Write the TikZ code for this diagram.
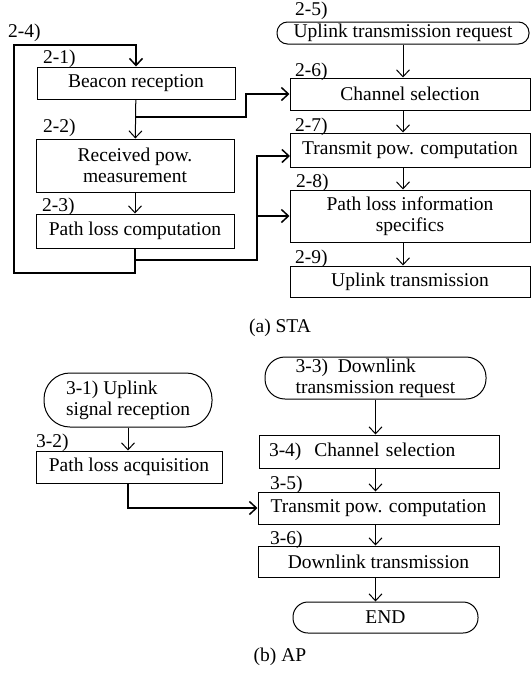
\documentclass[tikz,border=0pt]{standalone}
\usepackage{fontspec}
\setmainfont{Liberation Serif}
\usepackage{tikz}
\usetikzlibrary{arrows.meta,positioning,calc}
\tikzset{
  proc/.style={
    rectangle, draw=black, line width=1pt,
    inner sep=0pt, align=center
  },
  term/.style={proc, rounded corners=10pt},
  num/.style={anchor=base west, inner sep=0pt},
  flow/.style={-{Straight Barb[length=7pt,width=13pt]}, line width=1pt},
  route/.style={flow, line width=1.5pt},
  caption/.style={inner sep=0pt}
}

\begin{document}
\begin{tikzpicture}[x=1pt,y=-1pt,font=\fontsize{19.5}{21}\selectfont]
  \useasboundingbox (0,0) rectangle (531,675);

  % (a) STA -- left column
  \node[proc, minimum width=198pt, minimum height=32pt] (beacon) at (136,83) {Beacon reception};
  \node[proc, minimum width=198pt, minimum height=53pt] (recv) at (135,165.5) {Received pow.\\measurement};
  \node[proc, minimum width=198pt, minimum height=34pt] (plc) at (135,231) {Path loss computation};
  \node[num] (n24) at (8,37) {2-4)};
  \node[num] (n21) at (43,63) {2-1)};
  \node[num] (n22) at (43,132) {2-2)};
  \node[num] (n23) at (42,211) {2-3)};

  % (a) STA -- right column
  \node[term, rounded corners=10.5pt, minimum width=252pt, minimum height=22pt] (ulreq) at (403,33) {Uplink transmission request};
  \node[proc, minimum width=240pt, minimum height=32pt] (chsel) at (410,94) {Channel selection};
  \node[proc, minimum width=240pt, minimum height=34pt] (tpc) at (410,150) {Transmit pow. computation};
  \node[proc, minimum width=240pt, minimum height=52pt] (plinfo) at (410,216) {Path loss information\\specifics};
  \node[proc, minimum width=240pt, minimum height=31pt] (ultx) at (410,281.5) {Uplink transmission};
  \node[num] (n25) at (295,15) {2-5)};
  \node[num] (n26) at (295,76) {2-6)};
  \node[num] (n27) at (295,131) {2-7)};
  \node[num] (n28) at (296,187) {2-8)};
  \node[num] (n29) at (295,263) {2-9)};

  \node[caption] (capa) at (280,328) {(a) STA};

  % STA flow
  \draw[flow] (beacon) -- (recv);
  \draw[flow] (recv) -- (plc);
  \draw[flow] (ulreq.south) -- (ulreq.south |- chsel.north);
  \draw[flow] (ulreq.south |- chsel.south) -- (ulreq.south |- tpc.north);
  \draw[flow] (ulreq.south |- tpc.south) -- (ulreq.south |- plinfo.north);
  \draw[flow] (ulreq.south |- plinfo.south) -- (ulreq.south |- ultx.north);

  % loop back to beacon reception
  \coordinate (loopbl) at (14,273);
  \coordinate (looptl) at (14,45);
  \draw[route] (plc.south) |- (loopbl) -- (looptl) -| (beacon.north);

  % branches to the right column
  \coordinate (br1) at (136,117);
  \coordinate (jog1) at (246,117);
  \draw[route] (br1) -- (jog1) |- (chsel.west);
  \coordinate (br2) at (135,260);
  \coordinate (jog2) at (257,260);
  \coordinate (tpcin) at (290,156);
  \coordinate (tap) at (257,216);
  \draw[route] (br2) -- (jog2) |- (tpcin);
  \draw[route] (tap) -- (plinfo.west);

  % (b) AP
  \node[term, rounded corners=26pt, minimum width=168pt, minimum height=54pt, align=left] (ulsig) at (128,400) {3-1) Uplink\\signal reception};
  \node[proc, minimum width=186pt, minimum height=32pt] (placq) at (129,467) {Path loss acquisition};
  \node[num] (n32) at (36,447) {3-2)};

  \node[term, rounded corners=20pt, minimum width=221pt, minimum height=42pt, align=left] (dlreq) at (375.5,378) {3-3)\ \ Downlink\\transmission request};
  \node[proc, minimum width=240pt, minimum height=33pt, text width=220pt, align=left] (chsel3) at (379,451.5) {3-4)\ \ Channel selection};
  \node[proc, minimum width=241pt, minimum height=32pt] (tpc3) at (378.5,508) {Transmit pow. computation};
  \node[proc, minimum width=241pt, minimum height=31pt] (dltx) at (378.5,561.5) {Downlink transmission};
  \node[term, rounded corners=15pt, minimum width=185pt, minimum height=31pt] (endn) at (385.5,617.5) {END};
  \node[num] (n35) at (270,489) {3-5)};
  \node[num] (n36) at (270,544) {3-6)};

  \node[caption] (capb) at (280,657) {(b) AP};

  % AP flow
  \draw[flow] (ulsig) -- (ulsig |- placq.north);
  \draw[flow] (dlreq.south) -- (dlreq.south |- chsel3.north);
  \draw[flow] (dlreq.south |- chsel3.south) -- (dlreq.south |- tpc3.north);
  \draw[flow] (dlreq.south |- tpc3.south) -- (dlreq.south |- dltx.north);
  \draw[flow] (dlreq.south |- dltx.south) -- (dlreq.south |- endn.north);
  \draw[route] (placq.south -| ulsig.south) |- (tpc3.west);
\end{tikzpicture}
\end{document}
